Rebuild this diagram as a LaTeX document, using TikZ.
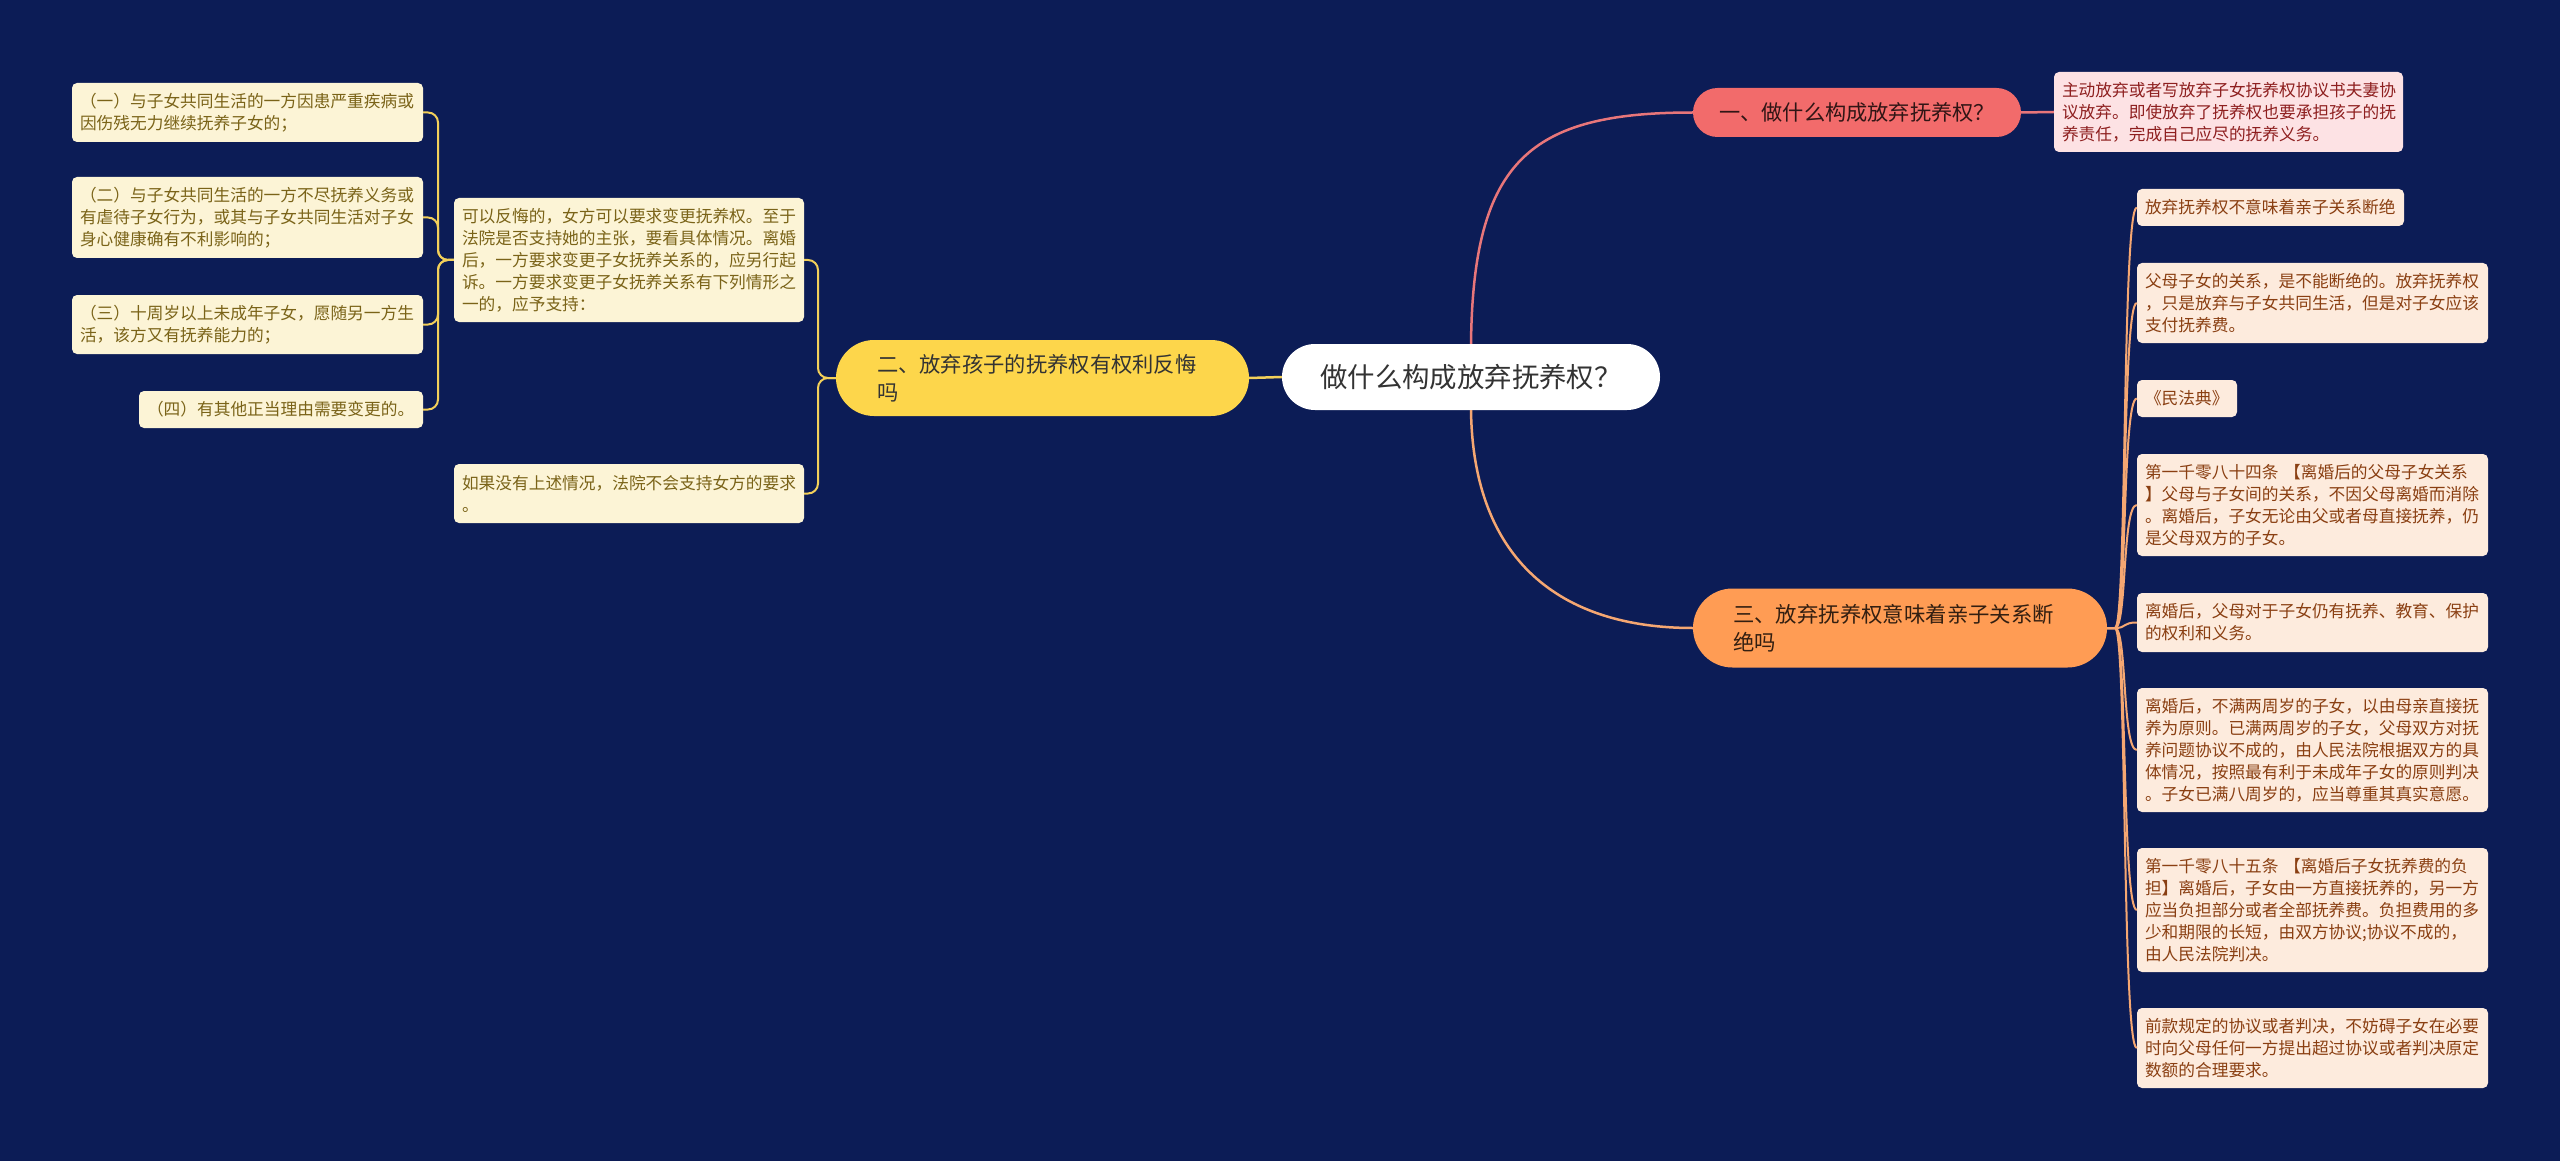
\documentclass[tikz,border=0pt]{standalone}
\usepackage{fontspec}
\setmainfont{Noto Sans CJK SC}
\definecolor{bgc}{HTML}{0C1C56}
\definecolor{ylw}{HTML}{FDD64B}
\definecolor{ylwline}{HTML}{F3D05A}
\definecolor{lfill}{HTML}{FCF4D6}
\definecolor{ltext}{HTML}{7A6318}
\definecolor{redn}{HTML}{F26B6B}
\definecolor{redline}{HTML}{E8767A}
\definecolor{rfill}{HTML}{FDE2E4}
\definecolor{rtext}{HTML}{8E1F1F}
\definecolor{orn}{HTML}{FF9C54}
\definecolor{orline}{HTML}{F5A772}
\definecolor{ofill}{HTML}{FDEBDD}
\definecolor{otext}{HTML}{8A3F12}
\definecolor{dark}{HTML}{333333}
\begin{document}
\begin{tikzpicture}[x=1pt,y=-1pt,
  smallbox/.style={rounded corners=5pt, inner xsep=8pt, inner ysep=0pt, align=left,
    font=\fontsize{16.7}{22}\selectfont},
  lbox/.style={smallbox, fill=lfill, text=ltext},
  obox/.style={smallbox, fill=ofill, text=otext},
  rbox/.style={smallbox, fill=rfill, text=rtext},
  pill/.style={inner sep=0pt},
  ycon/.style={draw=ylwline, line width=2pt, rounded corners=10pt},
  ocon/.style={draw=orline, line width=2pt},
  rcon/.style={draw=redline, line width=2.5pt},
  omain/.style={draw=orline, line width=2.5pt},
]
\fill[bgc] (0,0) rectangle (2560,1161);
\useasboundingbox (0,0) rectangle (2560,1161);

% main nodes
\node[pill, fill=white, rounded corners=33pt, minimum width=378pt, minimum height=66pt,
  text=dark, font=\fontsize{27.4}{32}\selectfont] (C) at (1471,377) {做什么构成放弃抚养权？};
\node[pill, fill=ylw, rounded corners=38pt, minimum height=76pt, inner xsep=41pt,
  text width=331pt, align=left, text=dark, font=\fontsize{21.3}{28}\selectfont] (Y) at (1042.5,378)
  {二、放弃孩子的抚养权有权利反悔\\吗};
\node[pill, fill=redn, rounded corners=24.5pt, minimum width=328pt, minimum height=49pt,
  text=black!80!redn, font=\fontsize{21.2}{26}\selectfont] (R) at (1857,112.5) {一、做什么构成放弃抚养权？};
\node[pill, fill=orn, rounded corners=39.5pt, minimum height=79pt, inner xsep=40pt,
  text width=334pt, align=left, text=black!80!orn, font=\fontsize{21.4}{28}\selectfont] (O) at (1900,628)
  {三、放弃抚养权意味着亲子关系断\\绝吗};

% red detail
\node[rbox, text width=333pt, minimum height=80pt] (RD) at (2228.5,112)
  {主动放弃或者写放弃子女抚养权协议书夫妻协\\议放弃。即使放弃了抚养权也要承担孩子的抚\\养责任，完成自己应尽的抚养义务。};

% yellow branch
\node[lbox, text width=334pt, minimum height=124pt] (M1) at (629,260)
  {可以反悔的，女方可以要求变更抚养权。至于\\法院是否支持她的主张，要看具体情况。离婚\\后，一方要求变更子女抚养关系的，应另行起\\诉。一方要求变更子女抚养关系有下列情形之\\一的，应予支持：};
\node[lbox, text width=334pt, minimum height=59pt] (M2) at (629,493.5)
  {如果没有上述情况，法院不会支持女方的要求\\。};
\node[lbox, text width=335pt, minimum height=59pt] (L1) at (247.5,112.5)
  {（一）与子女共同生活的一方因患严重疾病或\\因伤残无力继续抚养子女的；};
\node[lbox, text width=335pt, minimum height=81pt] (L2) at (247.5,217.5)
  {（二）与子女共同生活的一方不尽抚养义务或\\有虐待子女行为，或其与子女共同生活对子女\\身心健康确有不利影响的；};
\node[lbox, text width=335pt, minimum height=59pt] (L3) at (247.5,324.5)
  {（三）十周岁以上未成年子女，愿随另一方生\\活，该方又有抚养能力的；};
\node[lbox, text width=268pt, minimum height=37pt] (L4) at (281,409.5)
  {（四）有其他正当理由需要变更的。};

% orange branch
\node[obox, text width=251pt, minimum height=37pt] (B1) at (2270.5,207.5)
  {放弃抚养权不意味着亲子关系断绝};
\node[obox, text width=335pt, minimum height=80pt] (B2) at (2312.5,303)
  {父母子女的关系，是不能断绝的。放弃抚养权\\，只是放弃与子女共同生活，但是对子女应该\\支付抚养费。};
\node[obox, text width=84pt, minimum height=37pt] (B3) at (2187,398.5)
  {《民法典》};
\node[obox, text width=335pt, minimum height=102pt] (B4) at (2312.5,505)
  {第一千零八十四条 【离婚后的父母子女关系\\】父母与子女间的关系，不因父母离婚而消除\\。离婚后，子女无论由父或者母直接抚养，仍\\是父母双方的子女。};
\node[obox, text width=335pt, minimum height=59pt] (B5) at (2312.5,622.5)
  {离婚后，父母对于子女仍有抚养、教育、保护\\的权利和义务。};
\node[obox, text width=335pt, minimum height=124pt] (B6) at (2312.5,750)
  {离婚后，不满两周岁的子女，以由母亲直接抚\\养为原则。已满两周岁的子女，父母双方对抚\\养问题协议不成的，由人民法院根据双方的具\\体情况，按照最有利于未成年子女的原则判决\\。子女已满八周岁的，应当尊重其真实意愿。};
\node[obox, text width=335pt, minimum height=124pt] (B7) at (2312.5,910)
  {第一千零八十五条 【离婚后子女抚养费的负\\担】离婚后，子女由一方直接抚养的，另一方\\应当负担部分或者全部抚养费。负担费用的多\\少和期限的长短，由双方协议;协议不成的，\\由人民法院判决。};
\node[obox, text width=335pt, minimum height=80pt] (B8) at (2312.5,1048)
  {前款规定的协议或者判决，不妨碍子女在必要\\时向父母任何一方提出超过协议或者判决原定\\数额的合理要求。};

% connectors from center
\draw[rcon] (C.north) .. controls (1473,160) and (1530,112.5) .. (R.west);
\draw[rcon] (R.east) -- (RD.west);
\draw[omain] (C.south) .. controls (1473,560) and (1560,628) .. (O.west);
\draw[ycon, line width=2.5pt] (C.west) -- (Y.east);

% yellow brackets
\coordinate (yj) at (818,378);
\draw[ycon] (Y.west) -- (yj) |- (M1.east);
\draw[ycon] (Y.west) -- (yj) |- (M2.east);
\coordinate (mj) at (438,260);
\foreach \n in {L1,L2,L3,L4}{
  \draw[ycon] (M1.west) -- (mj) |- (\n.east);
}

% orange fan
\coordinate (oj) at (2115,628);
\foreach \n in {B1,B2,B3,B4,B5,B6,B7,B8}{
  \draw[ocon] (O.east) -- (oj) .. controls (2127,628) and (2122,0|-\n.west) .. (\n.west);
}
\end{tikzpicture}
\end{document}
